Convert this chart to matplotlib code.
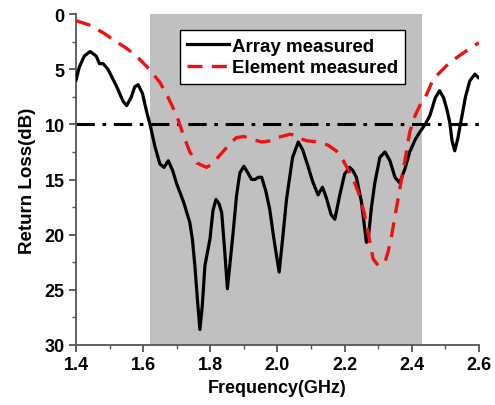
import matplotlib
matplotlib.use("Agg")
import matplotlib.pyplot as plt
from matplotlib.ticker import MultipleLocator

plt.rcParams['font.family'] = ['Liberation Sans', 'DejaVu Sans']
plt.rcParams['font.weight'] = 'bold'

# Array measured (black solid)
array_freq = [1.4, 1.41, 1.425, 1.442, 1.46, 1.47, 1.481, 1.495, 1.52, 1.54, 1.551, 1.565, 1.575,
              1.585, 1.598, 1.61, 1.622, 1.635, 1.65, 1.662, 1.675, 1.688, 1.70, 1.72, 1.739,
              1.747, 1.754, 1.762, 1.769, 1.776, 1.784, 1.799, 1.808, 1.817, 1.826, 1.834, 1.843,
              1.851, 1.859, 1.868, 1.878, 1.888, 1.9, 1.91, 1.923, 1.933, 1.943, 1.953, 1.965,
              1.977, 1.99, 2.005, 2.015, 2.027, 2.045, 2.062, 2.075, 2.091, 2.105, 2.121, 2.134,
              2.145, 2.16, 2.171, 2.185, 2.2, 2.215, 2.225, 2.235, 2.25, 2.265, 2.27, 2.28, 2.29,
              2.305, 2.32, 2.335, 2.35, 2.364, 2.38, 2.394, 2.41, 2.424, 2.44, 2.454, 2.47, 2.483,
              2.495, 2.505, 2.513, 2.52, 2.528, 2.537, 2.548, 2.56, 2.573, 2.588, 2.598]
array_rl = [6.0, 4.8, 3.8, 3.4, 3.8, 4.5, 4.5, 5.0, 6.5, 7.9, 8.3, 7.5, 6.6,
            6.4, 7.2, 8.8, 10.2, 12.0, 13.6, 13.9, 13.3, 14.2, 15.4, 17.0, 18.9,
            20.5, 22.8, 26.0, 28.6, 26.5, 22.8, 20.4, 17.8, 16.8, 17.2, 18.0, 21.5,
            24.9, 22.5, 19.8, 16.5, 14.4, 13.8, 14.3, 15.0, 15.0, 14.8, 14.8, 16.0,
            17.7, 20.5, 23.4, 20.5, 16.8, 13.0, 11.6, 12.3, 13.8, 15.2, 16.4, 15.7,
            16.6, 18.2, 18.6, 16.5, 14.5, 13.9, 14.2, 14.8, 17.0, 20.7, 20.5, 17.5, 15.3,
            13.0, 12.5, 13.3, 14.8, 15.3, 14.0, 12.5, 11.4, 10.7, 10.0, 9.2, 7.6, 6.95,
            7.6, 8.7, 9.8, 11.5, 12.4, 11.3, 9.5, 7.5, 6.05, 5.45, 5.75]

# Element measured (red dashed)
elem_freq = [1.4, 1.44, 1.481, 1.52, 1.55, 1.58, 1.615, 1.65, 1.675, 1.70, 1.72, 1.739, 1.76,
             1.789, 1.80, 1.814, 1.84, 1.86, 1.878, 1.90, 1.93, 1.953, 1.977, 2.0, 2.037, 2.055,
             2.067, 2.09, 2.126, 2.151, 2.175, 2.196, 2.215, 2.23, 2.245, 2.258, 2.27, 2.285,
             2.30, 2.32, 2.33, 2.34, 2.352, 2.364, 2.38, 2.394, 2.41, 2.424, 2.444, 2.464,
             2.49, 2.513, 2.55, 2.6]
elem_rl = [0.6, 1.0, 1.7, 2.5, 3.1, 3.8, 4.9, 6.2, 7.6, 9.2, 11.0, 12.5, 13.5,
           13.9, 13.7, 13.3, 12.4, 11.7, 11.2, 11.1, 11.4, 11.6, 11.5, 11.2, 10.9, 11.0,
           11.3, 11.5, 11.6, 11.9, 12.4, 13.3, 14.35, 15.3, 16.5, 18.0, 19.8, 22.2,
           22.8, 22.5, 21.5, 20.1, 18.0, 15.9, 13.2, 10.7, 9.2, 8.3, 7.3, 5.9,
           5.1, 4.4, 3.6, 2.6]

band = [1.62, 2.43]
threshold = 10
xtick_labels = ['1.4', '1.6', '1.8', '2.0', '2.2', '2.4', '2.6']

fig = plt.figure(figsize=(4.95, 4.06), dpi=100)
ax = fig.add_axes([0.1535, 0.1478, 0.814, 0.8152])

ax.axvspan(band[0], band[1], color='#c0c0c0', zorder=0, lw=0)
ax.axhline(threshold, color='black', lw=2.2, dashes=(6, 2.5, 1.2, 2.5), zorder=2)
ax.plot(array_freq, array_rl, color='black', lw=2.3, label='Array measured', zorder=3)
ax.plot(elem_freq, elem_rl, color='#ee1111', lw=2.4, dashes=(4.5, 2.8),
        label='Element measured', zorder=4)

ax.set_xlim(1.4, 2.6)
ax.set_ylim(30, 0)
ax.set_xticks([float(t) for t in xtick_labels])
ax.set_xticklabels(xtick_labels)
ax.xaxis.set_minor_locator(MultipleLocator(0.1))
ax.yaxis.set_major_locator(MultipleLocator(5))
ax.yaxis.set_minor_locator(MultipleLocator(2.5))

for s in ['top', 'right']:
    ax.spines[s].set_visible(False)
for s in ['left', 'bottom']:
    ax.spines[s].set_color('#555555')
    ax.spines[s].set_linewidth(1.3)

ax.tick_params(which='major', direction='out', length=5, width=1.3, color='#555555',
               labelsize=13, pad=3)
ax.tick_params(which='minor', direction='out', length=3, width=1.0, color='#555555')

ax.set_xlabel('Frequency(GHz)', fontsize=13, fontweight='bold', labelpad=4)
ax.set_ylabel('Return Loss(dB)', fontsize=13.5, fontweight='bold', labelpad=6)

leg = ax.legend(loc='upper left', bbox_to_anchor=(0.258, 0.952), fontsize=13.5,
                frameon=True, fancybox=False, framealpha=1, edgecolor='black',
                handlelength=2.2, handletextpad=0.15, borderpad=0.4, labelspacing=0.25,
                borderaxespad=0)
leg.get_frame().set_linewidth(1.0)

fig.savefig('out.png', dpi=100)
